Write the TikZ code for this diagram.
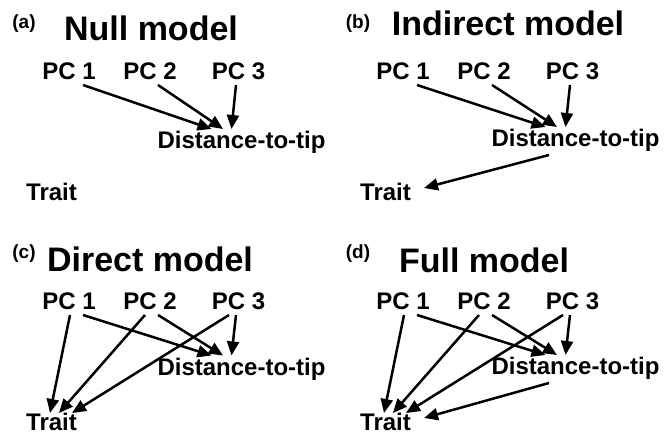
\documentclass[tikz,border=0pt]{standalone}
\usepackage{fontspec}
\setmainfont{Liberation Sans}
\usetikzlibrary{arrows.meta}

\begin{document}
\begin{tikzpicture}[x=1pt, y=-1pt, line join=round,
    every node/.style={inner sep=0pt, anchor=base},
    tag/.style={font=\fontsize{19}{21}\selectfont\bfseries},
    head/.style={font=\fontsize{34}{36}\selectfont\bfseries},
    var/.style={font=\fontsize{24}{26}\selectfont\bfseries},
    link/.style={line width=2.5pt, -{Triangle[length=14pt,width=12pt]}}]
    \useasboundingbox (0,0) rectangle (667,435);
    \foreach \p/\dx/\dy/\title/\tx/\ty/\dd in {a/0/0/Null/151/40.7/149, b/334/0/Indirect/174/36/147,
                                              c/0/230/Direct/150/41.3/145.5, d/334/230/Full/150/42.3/145}{
        \begin{scope}[shift={(\dx,\dy)}]
            \node[tag] (\p-tag) at (24,29) {(\p)};
            \node[head] (\p-head) at (\tx,\ty) {\title\ model};
            \node[var] (\p-pc1) at (69,80) {PC 1};
            \node[var] (\p-pc2) at (150,80) {PC 2};
            \node[var] (\p-pc3) at (238.5,80) {PC 3};
            \node[var] (\p-dist) at (241.5,\dd) {Distance-to-tip};
            \node[var] (\p-trait) at (51.5,201) {Trait};
        \end{scope}
    }
    
    % \draw (0,0) rectangle (667,435);
    \foreach \p in {a,b,c,d}
        \foreach \i/\sx/\ex in {1/14/-30, 2/8/-18.5, 3/-2.5/-10}
            \draw[link] ([xshift=\sx pt, yshift=-5pt]\p-pc\i.base) -- ([xshift=\ex pt, yshift=20pt]\p-dist.base);
    \foreach \p in {c,d}
        \foreach \i/\sx/\ex in {1/1/-1.5, 2/-5/7.5, 3/-9.5/20.5}
            \draw[link] ([xshift=\sx pt, yshift=-5pt]\p-pc\i.base) -- ([xshift=\ex pt, yshift=18pt]\p-trait.base);
    \foreach \p in {b,d}
        \draw[link] ([xshift=-26.5pt, yshift=-8pt]\p-dist.base) -- ([xshift=38.5pt, yshift=13pt]\p-trait.base);
\end{tikzpicture}
\end{document}
